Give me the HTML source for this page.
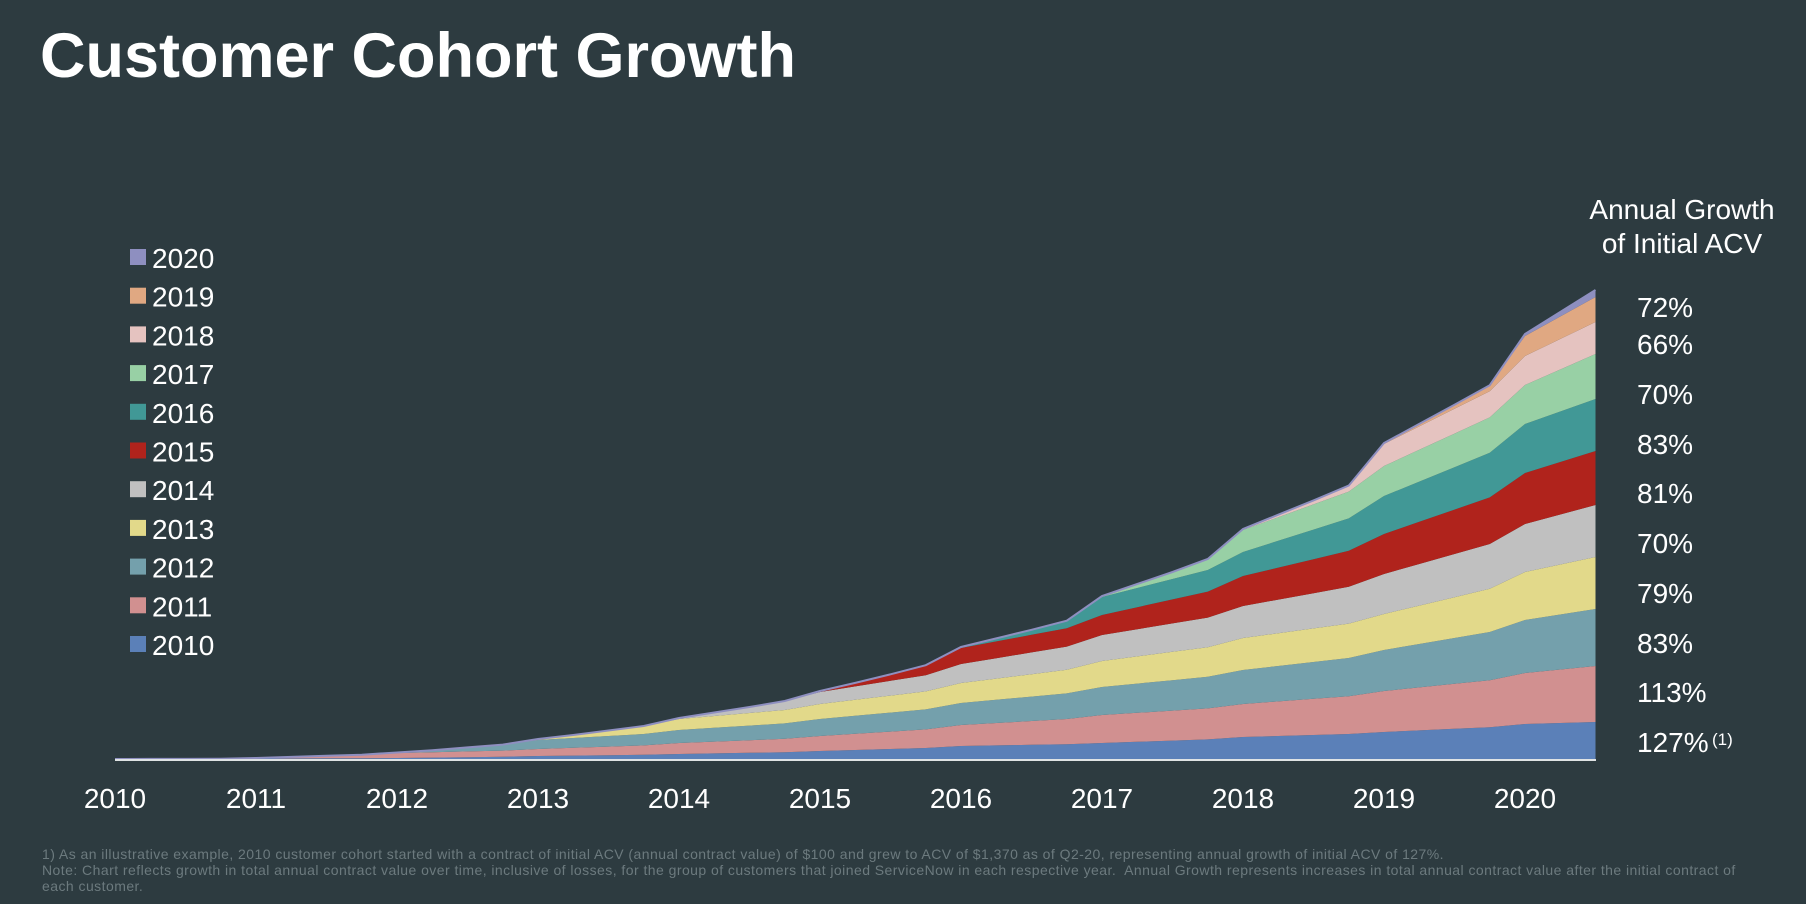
<!DOCTYPE html>
<html><head><meta charset="utf-8"><style>
body{margin:0;background:#2d3b40;width:1806px;height:904px;overflow:hidden;font-family:"Liberation Sans",sans-serif;color:#fff}
.t{position:absolute;white-space:nowrap}
</style></head><body>
<div class="t" style="left:40px;top:20px;font-size:63px;font-weight:bold;letter-spacing:0px">Customer Cohort Growth</div>
<div class="t" style="left:1582px;top:193px;font-size:28px;line-height:34px;text-align:center;width:200px">Annual Growth<br>of Initial ACV</div>
<div class="t" style="left:42px;top:846px;font-size:14px;line-height:16px;color:#6c7a7e;letter-spacing:0.45px">1) As an illustrative example, 2010 customer cohort started with a contract of initial ACV (annual contract value) of $100 and grew to ACV of $1,370 as of Q2-20, representing annual growth of initial ACV of 127%.<br>Note: Chart reflects growth in total annual contract value over time, inclusive of losses, for the group of customers that joined ServiceNow in each respective year.&nbsp; Annual Growth represents increases in total annual contract value after the initial contract of<br>each customer.</div>
<svg id="chart" width="1806" height="904" style="position:absolute;left:0;top:0"></svg>
<script>
const years=[2010,2010.25,2010.5,2010.75,2011,2011.25,2011.5,2011.75,2012,2012.25,2012.5,2012.75,2013,2013.25,2013.5,2013.75,2014,2014.25,2014.5,2014.75,2015,2015.25,2015.5,2015.75,2016,2016.25,2016.5,2016.75,2017,2017.25,2017.5,2017.75,2018,2018.25,2018.5,2018.75,2019,2019.25,2019.5,2019.75,2020,2020.25,2020.5];
const cohorts=["2010","2011","2012","2013","2014","2015","2016","2017","2018","2019","2020"];
const c2010=[1,1.1,1.1,1.2, 1.5,1.6,1.7,1.8, 2,2.4,2.8,3.2, 4,4.4,4.8,5.2, 6,6.6,7.2,7.8, 9,10,11,12, 14,14.6,15.2,15.8, 17,18.2,19.4,20.6, 23,24,25,26, 28,29.6,31.2,32.8, 36,37,38];
const c2011=[0,0,0,0, 0.5,1.5,2.5,3.5, 5,5.4,5.8,6.2, 7,7.8,8.6,9.4, 11,11.8,12.6,13.4, 15,16.2,17.4,18.6, 21,22.4,23.8,25.2, 28,29,30,31, 33,34.6,36.2,37.8, 41,43,45,47, 51,53.5,56];
const c2012=[0,0,0,0, 0,0,0,0, 0.5,2,4,6, 9,9.8,10.6,11.4, 13,13.8,14.6,15.4, 17,18,19,20, 22,23.2,24.4,25.6, 28,29.2,30.4,31.6, 34,35.4,36.8,38.2, 41,43.4,45.8,48.2, 53,55,57];
const c2013=[0,0,0,0, 0,0,0,0, 0,0,0,0, 1,3,5.5,8, 11,11.8,12.6,13.4, 15,16,17,18, 20,21.2,22.4,23.6, 26,27.2,28.4,29.6, 32,32.8,33.6,34.4, 36,38.4,40.8,43.2, 48,50,52];
const c2014=[0,0,0,0, 0,0,0,0, 0,0,0,0, 0,0,0,0, 1,3.5,6,9, 12,13.4,14.8,16.2, 19,20.4,21.8,23.2, 26,27.2,28.4,29.6, 32,33.6,35.2,36.8, 40,41.6,43.2,44.8, 48,50,52];
const c2015=[0,0,0,0, 0,0,0,0, 0,0,0,0, 0,0,0,0, 0,0,0,0, 1,3.5,6.5,10, 16,16.8,17.6,18.4, 20,22,24,26, 30,32,34,36, 40,42.2,44.4,46.6, 51,52.5,54];
const c2016=[0,0,0,0, 0,0,0,0, 0,0,0,0, 0,0,0,0, 0,0,0,0, 0,0,0,0, 1,3,5,7.5, 18,19.2,20.4,21.6, 24,26.8,29.6,32.4, 38,40.2,42.4,44.6, 49,50.5,52];
const c2017=[0,0,0,0, 0,0,0,0, 0,0,0,0, 0,0,0,0, 0,0,0,0, 0,0,0,0, 0,0,0,0, 1,4,7,11, 22,23.6,25.2,26.8, 30,31.8,33.6,35.4, 39,42,45];
const c2018=[0,0,0,0, 0,0,0,0, 0,0,0,0, 0,0,0,0, 0,0,0,0, 0,0,0,0, 0,0,0,0, 0,0,0,0, 1,2.5,4,6, 22,23.4,24.8,26.2, 29,30.5,32];
const c2019=[0,0,0,0, 0,0,0,0, 0,0,0,0, 0,0,0,0, 0,0,0,0, 0,0,0,0, 0,0,0,0, 0,0,0,0, 0,0,0,0, 1,2.5,4,6, 20,22.5,25];
const c2020=[0,0,0,0, 0,0,0,0, 0,0,0,0, 0,0,0,0, 0,0,0,0, 0,0,0,0, 0,0,0,0, 0,0,0,0, 0,0,0,0, 0,0,0,0, 2,4.5,7];
const series=[c2010,c2011,c2012,c2013,c2014,c2015,c2016,c2017,c2018,c2019,c2020];
const growth=["127%","113%","83%","79%","70%","81%","83%","70%","66%","72%"];
const xTicks=[2010,2011,2012,2013,2014,2015,2016,2017,2018,2019,2020];
const colors=["#5b80b8","#d19090","#74a0ac","#e2d98a","#c0c0c0","#b0231c","#419896","#98d0a5","#e5c3c0","#e0a882","#8e8fc0"];
const X=y=>115+(y-2010)*141;
const Y=v=>760-v;
const svg=document.getElementById('chart');
const NS='http://www.w3.org/2000/svg';
let base=years.map(()=>0);
series.forEach((s,i)=>{
  const top=s.map((v,j)=>base[j]+v);
  let d='M'+years.map((y,j)=>X(y)+','+Y(top[j])).join('L');
  for(let j=years.length-1;j>=0;j--)d+='L'+X(years[j])+','+Y(base[j]);
  const p=document.createElementNS(NS,'path');
  p.setAttribute('d',d+'Z');p.setAttribute('fill',colors[i]);
  
  
  svg.appendChild(p);
  base=top;
});
const edge=document.createElementNS(NS,'polyline');
edge.setAttribute('points',years.map((y,j)=>X(y)+','+Y(base[j])).join(' '));
edge.setAttribute('fill','none');edge.setAttribute('stroke','#8e8fc0');edge.setAttribute('stroke-width','2');


svg.appendChild(edge);
const ax=document.createElementNS(NS,'line');
ax.setAttribute('x1',115);ax.setAttribute('x2',1596);ax.setAttribute('y1',760);ax.setAttribute('y2',760);
ax.setAttribute('stroke','#dfe3e4');ax.setAttribute('stroke-width','2');


svg.appendChild(ax);
xTicks.forEach(t=>{
  const tx=document.createElementNS(NS,'text');
  tx.setAttribute('x',X(t));tx.setAttribute('y',808);tx.setAttribute('text-anchor','middle');
  tx.setAttribute('fill','#fff');tx.setAttribute('font-size','28');tx.setAttribute('font-family','Liberation Sans, sans-serif');
  tx.textContent=t;
  
  
  svg.appendChild(tx);
});
const lblY=[742,692,643,593,543,493,444,394,344,307];
growth.forEach((g,i)=>{
  const tx=document.createElementNS(NS,'text');
  tx.setAttribute('x',1637);tx.setAttribute('y',lblY[i]+10);
  tx.setAttribute('fill','#fff');tx.setAttribute('font-size','28');tx.setAttribute('font-family','Liberation Sans, sans-serif');
  tx.textContent=g;
  
  
  svg.appendChild(tx);
});
const sup=document.createElementNS(NS,'text');
sup.setAttribute('x',1712);sup.setAttribute('y',745);sup.setAttribute('fill','#fff');sup.setAttribute('font-size','17');
sup.setAttribute('font-family','Liberation Sans, sans-serif');sup.textContent='(1)';


svg.appendChild(sup);
for(let i=0;i<cohorts.length;i++){
  const k=cohorts.length-1-i, y=258+i*38.7;
  const r=document.createElementNS(NS,'rect');
  r.setAttribute('x',130);r.setAttribute('y',y-9);r.setAttribute('width',16);r.setAttribute('height',16);r.setAttribute('fill',colors[k]);
  
  
  svg.appendChild(r);
  const tx=document.createElementNS(NS,'text');
  tx.setAttribute('x',152);tx.setAttribute('y',y+10);tx.setAttribute('fill','#fff');tx.setAttribute('font-size','28');
  tx.setAttribute('font-family','Liberation Sans, sans-serif');tx.textContent=cohorts[k];
  
  
  svg.appendChild(tx);
}
</script>
</body></html>
